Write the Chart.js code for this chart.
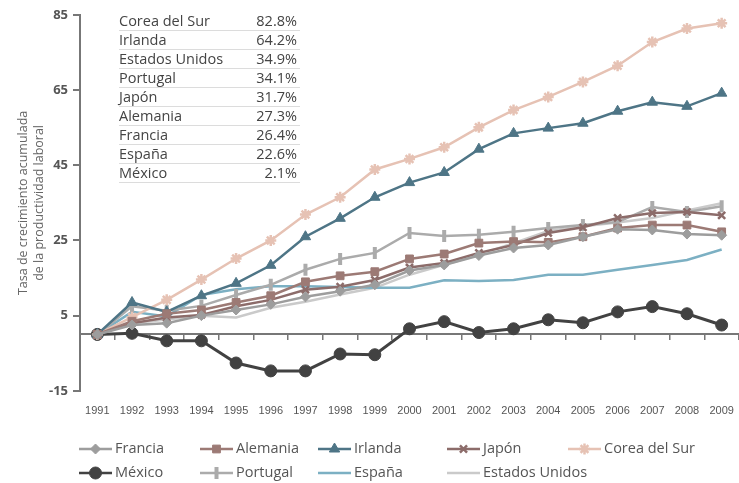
<!DOCTYPE html>
<html>
<head>
<meta charset="utf-8">
<script src="https://cdn.jsdelivr.net/npm/chart.js@4.4.0/dist/chart.umd.min.js"></script>
<style>
  body { margin: 0; background: #fff; }
  #wrap { position: relative; width: 739px; height: 483px; }
  #tabla { position: absolute; left: 119px; top: 12px; width: 181px;
           font-family: 'Open Sans', sans-serif; font-size: 14.5px; color: #444; }
  #tabla .fila { display: flex; justify-content: space-between; height: 18px; line-height: 18px;
                 border-bottom: 1.5px solid #dcdcdc; padding-right: 3px; }
</style>
</head>
<body>
<div id="wrap">
  <canvas id="myChart"></canvas>
  <div id="tabla"></div>
</div>
<script>
// Years on the x axis
const years = ['1991','1992','1993','1994','1995','1996','1997','1998','1999','2000',
               '2001','2002','2003','2004','2005','2006','2007','2008','2009'];

// Accumulated growth per country
const francia  = [0, 2.5, 3, 5, 6.5, 8, 10, 11.5, 13.2, 17, 18.5, 21, 23, 23.8, 26, 28, 27.8, 26.7, 26.4];
const alemania = [0, 3.5, 5.5, 6.5, 8.5, 10.3, 14, 15.6, 16.7, 20.1, 21.4, 24.3, 24.7, 24.5, 26, 28.3, 29.1, 29.1, 27.3];
const irlanda  = [0, 8.5, 6, 10.3, 13.6, 18.4, 26, 30.9, 36.5, 40.4, 43.1, 49.3, 53.5, 54.9, 56.2, 59.4, 61.8, 60.7, 64.2];
const japon    = [0, 3, 4.5, 5.2, 7.5, 9.2, 11.9, 12.7, 14.5, 17.8, 19, 21.7, 23.8, 27, 28.5, 31, 32.3, 32.6, 31.7];
const corea    = [0, 4.6, 9.2, 14.6, 20.2, 25, 31.9, 36.5, 43.9, 46.7, 49.8, 55.1, 59.7, 63.2, 67.2, 71.5, 77.8, 81.4, 82.8];
const mexico   = [0, 0.3, -1.7, -1.7, -7.6, -9.7, -9.7, -5.2, -5.4, 1.5, 3.4, 0.5, 1.5, 3.9, 3.1, 6, 7.4, 5.5, 2.5];
const portugal = [0, 7.5, 6.3, 7.6, 10.5, 13.2, 17.2, 20.1, 21.7, 27, 26.2, 26.5, 27.3, 28.3, 29.1, 29.9, 33.9, 32.6, 34.1];
const espana   = [0, 6, 4.8, 10.5, 12, 12.8, 12.8, 12.6, 12.4, 12.4, 14.4, 14.2, 14.5, 15.9, 15.9, 17.2, 18.5, 19.8, 22.6];
const eeuu     = [0, 3, 4, 5, 4.5, 7.1, 8.7, 10.6, 12.4, 15.9, 18.5, 21.2, 24.3, 27.5, 28.8, 29.8, 31, 33, 34.9];

// Summary table (top left)
const tableNames  = ['Corea del Sur','Irlanda','Estados Unidos','Portugal','Japón','Alemania','Francia','España','México'];
const tableValues = ['82.8%','64.2%','34.9%','34.1%','31.7%','27.3%','26.4%','22.6%','2.1%'];

// Y ticks
const yMin = -15, yMax = 85, yStep = 20;

// Build the table
let tabla = document.getElementById('tabla');
for (let i = 0; i < tableNames.length; i++) {
    let fila = document.createElement('div');
    fila.className = 'fila';
    let a = document.createElement('span'); a.innerText = tableNames[i];
    let b = document.createElement('span'); b.innerText = tableValues[i];
    fila.appendChild(a); fila.appendChild(b);
    tabla.appendChild(fila);
}

function serie(label, data, color, style, radius, extra) {
    return Object.assign({
        label: label,
        data: data,
        borderColor: color,
        backgroundColor: color,
        borderWidth: 2.5,
        pointStyle: style,
        pointRadius: radius,
        pointBorderWidth: 1,
        tension: 0
    }, extra || {});
}

const datasets = [
    serie('Francia', francia, '#9d9d9d', 'rectRot', 5),
    serie('Alemania', alemania, '#9c7a75', 'rect', 5.5),
    serie('Irlanda', irlanda, '#4e7586', 'triangle', 6),
    serie('Japón', japon, '#8c6c6a', 'crossRot', 5, { pointBorderWidth: 2.5 }),
    serie('Corea del Sur', corea, '#e6c2b4', 'star', 5.5, { pointBorderWidth: 2.5 }),
    serie('México', mexico, '#424242', 'circle', 6, { borderWidth: 3 }),
    serie('Portugal', portugal, '#ababab', 'line', 6, { pointRotation: 90, pointBorderWidth: 4 }),
    serie('España', espana, '#7cb0c3', 'line', 0),
    serie('Estados Unidos', eeuu, '#cacaca', 'line', 0)
];

// Legend drawn under the chart in two rows of columns
const legendCols = [79, 200, 318, 447, 568];
const legendRows = [449, 473];
const legendPlugin = {
    id: 'legendGrid',
    afterDraw(chart) {
        const ctx = chart.ctx;
        ctx.save();
        chart.data.datasets.forEach((ds, i) => {
            let x = legendCols[i < 5 ? i : i - 5];
            let y = legendRows[i < 5 ? 0 : 1];
            ctx.strokeStyle = ds.borderColor;
            ctx.fillStyle = ds.backgroundColor;
            ctx.lineWidth = 2.5;
            ctx.beginPath();
            ctx.moveTo(x, y); ctx.lineTo(x + 33, y);
            ctx.stroke();
            if (ds.pointRadius > 0) {
                ctx.lineWidth = ds.pointBorderWidth;
                Chart.helpers.drawPoint(ctx, {
                    pointStyle: ds.pointStyle,
                    radius: ds.pointRadius,
                    rotation: ds.pointRotation || 0,
                    borderWidth: ds.pointBorderWidth
                }, x + 16.5, y);
            }
            ctx.fillStyle = '#555';
            ctx.font = "14.5px 'Open Sans', sans-serif";
            ctx.textBaseline = 'middle';
            ctx.fillText(ds.label, x + 36, y);
        });
        ctx.restore();
    }
};

const ctx = document.getElementById('myChart').getContext('2d');
const myChart = new Chart(ctx, {
    type: 'line',
    data: { labels: years, datasets: datasets },
    plugins: [legendPlugin],
    options: {
        responsive: true,
        maintainAspectRatio: false,
        animation: false,
        layout: { autoPadding: false, padding: { left: 15, top: 15, right: 0, bottom: 51 } },
        plugins: { legend: { display: false }, tooltip: { enabled: false } },
        scales: {
            x: {
                type: 'category',
                position: { y: 0 },
                offset: true,
                ticks: { display: false },
                grid: { drawOnChartArea: false, offset: true, tickLength: 5, color: '#777', lineWidth: 1.5 },
                border: { color: '#777', width: 2 }
            },
            x2: {
                type: 'category',
                axis: 'x',
                position: 'bottom',
                offset: true,
                afterFit(scale) { scale.paddingLeft = 0; scale.paddingRight = 0; },
                grid: { display: false, drawTicks: false },
                border: { display: false },
                ticks: { padding: 14, color: '#555', maxRotation: 0, autoSkip: false,
                         font: { family: "'Liberation Sans Narrow', sans-serif", size: 11 } }
            },
            y: {
                min: yMin, max: yMax,
                afterFit(scale) { scale.width = 65; },
                ticks: { stepSize: yStep, color: '#555', padding: 5,
                         font: { family: "'Open Sans', sans-serif", size: 13, weight: 'bold' } },
                grid: { drawOnChartArea: false, tickLength: 7, color: '#777', lineWidth: 2 },
                border: { color: '#777', width: 2 },
                title: {
                    display: true,
                    text: ['Tasa de crecimiento acumulada', 'de la productividad laboral'],
                    color: '#666',
                    font: { family: "'Open Sans', sans-serif", size: 12.5, lineHeight: 1.3 },
                    padding: { top: 0, bottom: 0 }
                }
            }
        }
    }
});
</script>
</body>
</html>
